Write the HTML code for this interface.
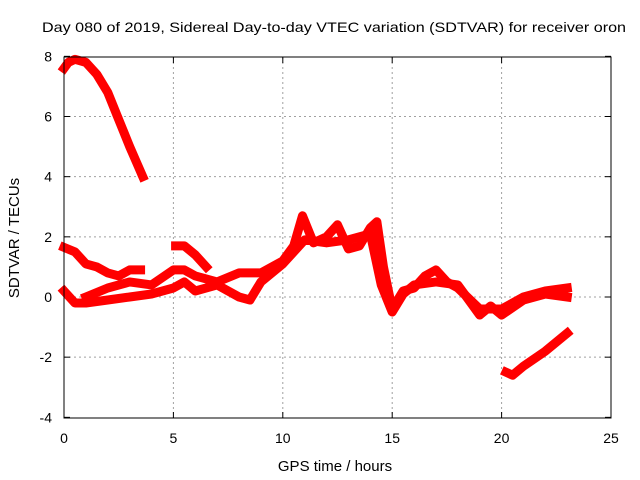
<!DOCTYPE html>
<html><head><meta charset="utf-8"><style>
body{margin:0;background:#fff}
svg{display:block;font-family:"Liberation Sans",sans-serif}
</style></head><body>
<svg id="chart" width="640" height="480" viewBox="0 0 640 480">
<text x="42" y="32" font-size="14" textLength="584" lengthAdjust="spacingAndGlyphs">Day 080 of 2019, Sidereal Day-to-day VTEC variation (SDTVAR) for receiver oron</text>
<text x="335" y="471" font-size="15" text-anchor="middle">GPS time / hours</text>
<text transform="translate(19,238) rotate(-90)" font-size="15" text-anchor="middle">SDTVAR / TECUs</text>
<g id="grid"></g><g id="ticks"></g><g id="series"></g>
<rect x="64" y="57" width="547" height="361" fill="none" stroke="#000"/>
</svg>
<script>
const xTicks=[0,5,10,15,20,25];
const yTicks=[-4,-2,0,2,4,6,8];
const seriesA=[[0,7.6],[0.2,7.8],[0.5,7.9],[1,7.8],[1.5,7.4],[2,6.8],[2.5,5.9],[3,5.0],[3.3,4.5],[3.6,4.0]];
const seriesB=[[0,1.65],[0.5,1.5],[1,1.1],[1.5,1.0],[2,0.8],[2.5,0.7],[3,0.9],[3.5,0.9]];
const seriesB2=[[5.1,1.7],[5.5,1.7],[6,1.4],[6.5,1.0]];
const seriesC=[[1,0.0],[2,0.3],[3,0.5],[4,0.4],[5,0.9],[5.5,0.9],[6,0.7],[7,0.5],[8,0.8],[9,0.8],[10,1.2],[10.5,1.7],[10.9,2.7],[11.4,1.8],[12,2.0],[12.5,2.4],[13,1.6],[13.5,1.7],[14,2.3],[14.3,2.5],[14.6,1.0],[15,-0.4],[15.5,0.2],[16,0.3],[16.5,0.7],[17,0.9],[17.5,0.5],[18,0.3],[19,-0.4],[20,-0.4],[21,0.0],[22,0.2],[23,0.3]];
const seriesD=[[0,0.2],[0.5,-0.2],[1,-0.2],[2,-0.1],[3,0.0],[4,0.1],[5,0.3],[5.5,0.5],[6,0.2],[7,0.4],[8,0.0],[8.5,-0.1],[9,0.5],[10,1.1],[11,1.9],[12,1.8],[13,1.9],[14,2.1],[14.5,0.4],[15,-0.5],[15.5,0.1],[16,0.4],[17,0.5],[18,0.4],[19,-0.6],[19.5,-0.3],[20,-0.6],[21,-0.1],[22,0.1],[23,0.0]];
const seriesE=[[20.2,-2.5],[20.5,-2.6],[21,-2.3],[22,-1.8],[23,-1.2]];
const allSeries=[seriesA,seriesB,seriesB2,seriesC,seriesD,seriesE];
const X=h=>64+h*(547/25), Y=v=>297-v*(361/12);
const NS="http://www.w3.org/2000/svg";
const mk=(t,a,p)=>{const e=document.createElementNS(NS,t);for(const k in a)e.setAttribute(k,a[k]);p.appendChild(e);return e;};
const grid=document.getElementById('grid'),ticks=document.getElementById('ticks'),ser=document.getElementById('series');
xTicks.forEach(t=>{
 if(t>0&&t<25){const g=mk('line',{x1:X(t),x2:X(t),y1:57,y2:418,stroke:'#a0a0a0','stroke-dasharray':'2,3'},grid);
 
 }
 mk('line',{x1:X(t),x2:X(t),y1:418,y2:412,stroke:'#000'},ticks);
 mk('line',{x1:X(t),x2:X(t),y1:57,y2:63,stroke:'#000'},ticks);
 const l=mk('text',{x:X(t),y:443,'font-size':14,'text-anchor':'middle'},ticks);l.textContent=t;
 
 
});
yTicks.forEach(t=>{
 if(t>-4&&t<8){const g=mk('line',{x1:64,x2:611,y1:Y(t),y2:Y(t),stroke:'#a0a0a0','stroke-dasharray':'2,3'},grid);
 
 }
 mk('line',{x1:64,x2:70,y1:Y(t),y2:Y(t),stroke:'#000'},ticks);
 mk('line',{x1:611,x2:605,y1:Y(t),y2:Y(t),stroke:'#000'},ticks);
 const l=mk('text',{x:52,y:Y(t)+5,'font-size':14,'text-anchor':'end'},ticks);l.textContent=t;
 
 
});
allSeries.forEach((s,i)=>{
 const p=mk('polyline',{points:s.map(d=>X(d[0])+','+Y(d[1])).join(' '),fill:'none',stroke:'#ff0000','stroke-width':9,'stroke-linejoin':'round','stroke-linecap':'square'},ser);
 
 
});
</script>
</body></html>
